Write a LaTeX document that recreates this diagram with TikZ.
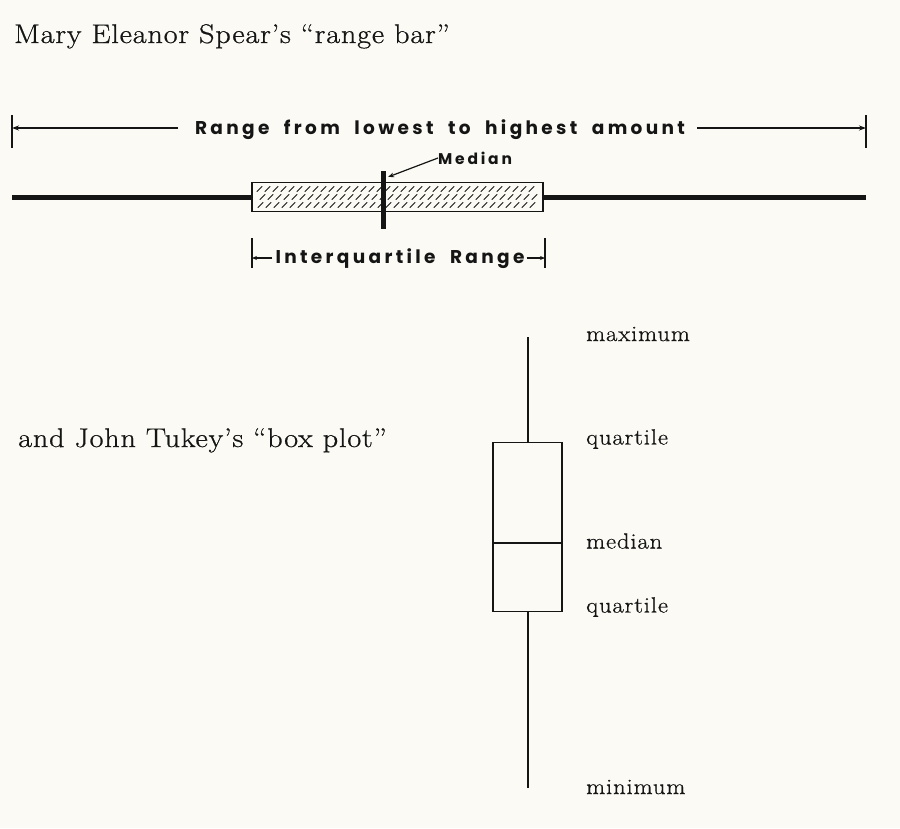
\documentclass[tikz,border=0pt]{standalone}
\usepackage{fontspec}
\usetikzlibrary{arrows.meta}
\newfontfamily\lettering[LetterSpace=18,WordSpace=2]{Poppins}
\newfontfamily\bookface[FakeStretch=1.12,LetterSpace=3,FakeBold=0.7]{Latin Modern Roman}
\newfontfamily\labelface[FakeStretch=1.12,LetterSpace=4,FakeBold=0.7]{Latin Modern Roman}
\definecolor{paper}{HTML}{FBFAF4}
\definecolor{ink}{HTML}{151515}
\begin{document}
\begin{tikzpicture}[x=1pt,y=-1pt,
  serif/.style={font=\bookface\fontsize{27}{30}\selectfont, text=ink, inner sep=0pt},
  plotlabel/.style={font=\labelface\fontsize{22}{26}\selectfont, text=ink, inner sep=0pt, anchor=west},
  letters/.style={font=\lettering\bfseries\fontsize{18.5}{22}\selectfont, text=ink, inner sep=0pt},
  smallletters/.style={font=\lettering\bfseries\fontsize{15.5}{18}\selectfont, text=ink, inner sep=0pt},
  dimline/.style={draw=ink, line width=1.3pt, -{Stealth[length=7pt,width=5pt]}},
  shortarrow/.style={draw=ink, line width=1.2pt, -{Stealth[length=5pt,width=4pt]}},
  tick/.style={draw=ink, line width=1.3pt},
  heavy/.style={draw=ink, line width=5pt},
  thin/.style={draw=ink, line width=1.6pt},
  hatch/.style={draw=ink, line width=0.9pt, line cap=round}]
  \fill[paper] (0,0) rectangle (900,828);
  \useasboundingbox (0,0) rectangle (900,828);

  % headings
  \node[serif, anchor=base west] (spear) at (14,43) {Mary Eleanor Spear’s “range bar”};
  \node[serif, anchor=base west] (tukey) at (18,447) {and John Tukey’s “box plot”};

  % ---------- range bar ----------
  \coordinate (lo) at (12,197);
  \coordinate (hi) at (866,197);
  \coordinate (ltick) at (12,128);
  \coordinate (rtick) at (866,128);
  \draw[tick] (12,115) -- (12,148);
  \draw[tick] (866,115) -- (866,148);
  \node[letters] (rangelbl) at (440,130) {Range from lowest to highest amount};
  \draw[dimline] (178,128) -- (ltick);
  \draw[dimline] (697,128) -- (rtick);

  % whiskers
  \draw[heavy] (lo) -- (252,197);
  \draw[heavy] (543,197) -- (hi);
  % hatched box
  \node[draw=ink, line width=1.6pt, minimum width=291pt, minimum height=29pt, inner sep=0pt] (iqr) at (397.5,197) {};
  \foreach \yy/\off in {189/0,197/3,205/1}
    \foreach \xx in {257,265,...,536}
      \draw[hatch] (\xx+\off,\yy+2.5) -- (\xx+\off+5,\yy-2.5);
  % median bar
  \draw[heavy] (383,171) -- (383,229);
  \coordinate (medbar) at (388,177);
  \node[smallletters, anchor=west] (medlbl) at (438,158) {Median};
  \draw[draw=ink, line width=1.2pt, -{Stealth[length=6pt,width=4.5pt]}] (medlbl.west) -- (medbar);

  % interquartile range
  \draw[tick] (252,238) -- (252,268);
  \draw[tick] (545,238) -- (545,268);
  \coordinate (qlo) at (252,258);
  \coordinate (qhi) at (545,258);
  \node[letters] (iqrlbl) at (400,259) {Interquartile Range};
  \draw[shortarrow] ([xshift=-3pt]iqrlbl.west |- qlo) -- (qlo);
  \draw[shortarrow] ([xshift=2pt]iqrlbl.east |- qhi) -- (qhi);

  % ---------- box plot ----------
  \coordinate (max) at (528,337);
  \coordinate (min) at (528,788);
  \node[draw=ink, line width=1.6pt, minimum width=69pt, minimum height=169pt, inner sep=0pt] (box) at (527.5,527) {};
  \draw[thin] (box.west |- 0,543) -- (box.east |- 0,543);
  \draw[thin] (max) -- (box.north -| max);
  \draw[thin] (box.south -| min) -- (min);

  \node[plotlabel] (lmax) at (586,334) {maximum};
  \node[plotlabel] (lq3) at (586,439) {quartile};
  \node[plotlabel] (lmed) at (586,541) {median};
  \node[plotlabel] (lq1) at (586,607) {quartile};
  \node[plotlabel] (lmin) at (586,787) {minimum};
\end{tikzpicture}
\end{document}
